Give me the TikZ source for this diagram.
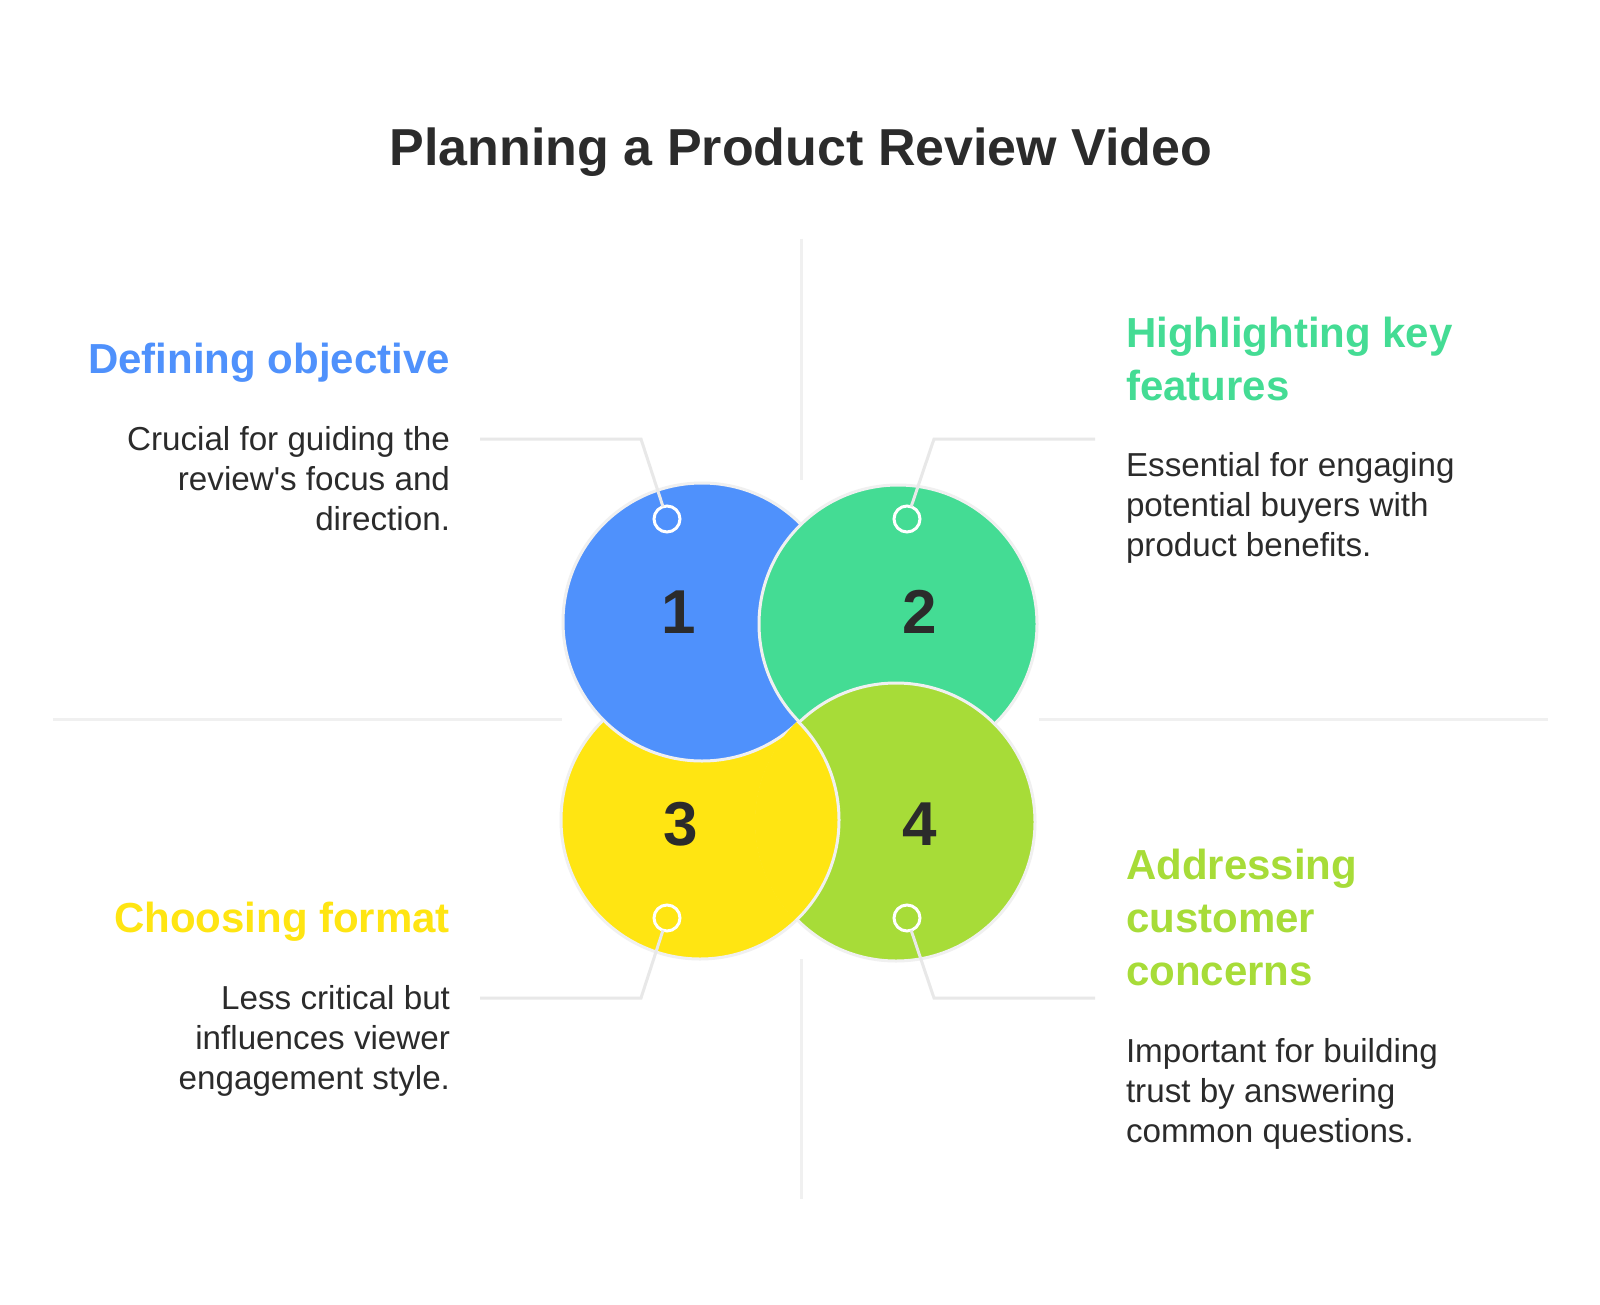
\documentclass[tikz,border=0pt]{standalone}
\usepackage{fontspec}
\setmainfont{Liberation Sans}
\usetikzlibrary{positioning}

\definecolor{ink}{HTML}{2B2B2B}
\definecolor{cblue}{HTML}{4F91FC}
\definecolor{cgreen}{HTML}{44DC94}
\definecolor{cyellow}{HTML}{FFE512}
\definecolor{clime}{HTML}{A7DC38}
\definecolor{rimgray}{HTML}{F0F0F0}
\definecolor{linegray}{HTML}{E8E8E8}
\definecolor{guidegray}{HTML}{F0F0F0}

\begin{document}
\begin{tikzpicture}[x=0.5pt, y=-0.5pt,
    every node/.style={inner sep=0pt, outer sep=0pt},
    disc/.style={circle, draw=rimgray, line width=1.5pt, minimum size=139pt},
    marker/.style={circle, draw=white, line width=1.5pt, minimum size=13pt},
    link/.style={draw=linegray, line width=1.5pt},
    guide/.style={draw=guidegray, line width=1.5pt},
    head/.style={font=\fontsize{21}{26.5}\selectfont\bfseries},
    body/.style={font=\fontsize{16.6}{20}\selectfont, text=ink},
    num/.style={font=\fontsize{31}{31}\selectfont\bfseries, text=ink}]
\useasboundingbox[fill=white] (0,0) rectangle (1600,1305);

\node[font=\fontsize{26}{30}\selectfont\bfseries, text=ink, anchor=base] (title) at (801,166) {Planning a Product Review Video};

% quadrant guides
\draw[guide] (801,239) -- (801,480);
\draw[guide] (801,959) -- (801,1199);
\draw[guide] (53,719) -- (562,719);
\draw[guide] (1039,719) -- (1548,719);

% circles, each one overlapping the next
\node[disc, fill=cyellow] (c3) at (700,820) {};
\node[disc, fill=cblue] (c1) at (702,622) {};
\node[disc, fill=cgreen] (c2) at (898,624) {};
\node[disc, fill=clime] (c4) at (896,822) {};
\begin{scope}
  \clip (c4.center) circle[radius=70.5pt];
  \node[disc, fill=cyellow] at (c3) {};
\end{scope}

\node[num] (n1) at (679,612) {1};
\node[num] (n2) at (920,612) {2};
\node[num] (n3) at (681,824) {3};
\node[num] (n4) at (920,824) {4};

\node[marker] (m1) at (667,519) {};
\node[marker] (m2) at (907,519) {};
\node[marker] (m3) at (667,918) {};
\node[marker] (m4) at (907,918) {};

\coordinate (k1) at (641,439);
\coordinate (e1) at (480,439);
\coordinate (k2) at (934,439);
\coordinate (e2) at (1095,439);
\coordinate (k3) at (641,998);
\coordinate (e3) at (480,998);
\coordinate (k4) at (934,998);
\coordinate (e4) at (1095,998);
\draw[link] (m1) -- (k1) -- (e1);
\draw[link] (m2) -- (k2) -- (e2);
\draw[link] (m3) -- (k3) -- (e3);
\draw[link] (m4) -- (k4) -- (e4);

% texts (base = last line)
\node[head, text=cblue, anchor=base east] (h1) at (450,373) {Defining objective};
\node[body, anchor=base east, align=right] (b1) at (450,530) {Crucial for guiding the\\review\textquotesingle s focus and\\direction.};

\node[head, text=cgreen, anchor=base west, align=left] (h2) at (1126,400) {Highlighting key\\features};
\node[body, anchor=base west, align=left] (b2) at (1126,556) {Essential for engaging\\potential buyers with\\product benefits.};

\node[head, text=cyellow, anchor=base east] (h3) at (450,932) {Choosing format};
\node[body, anchor=base east, align=right] (b3) at (450,1089) {Less critical but\\influences viewer\\engagement style.};

\node[head, text=clime, anchor=base west, align=left] (h4) at (1126,985) {Addressing\\customer\\concerns};
\node[body, anchor=base west, align=left] (b4) at (1126,1142) {Important for building\\trust by answering\\common questions.};
\end{tikzpicture}
\end{document}
